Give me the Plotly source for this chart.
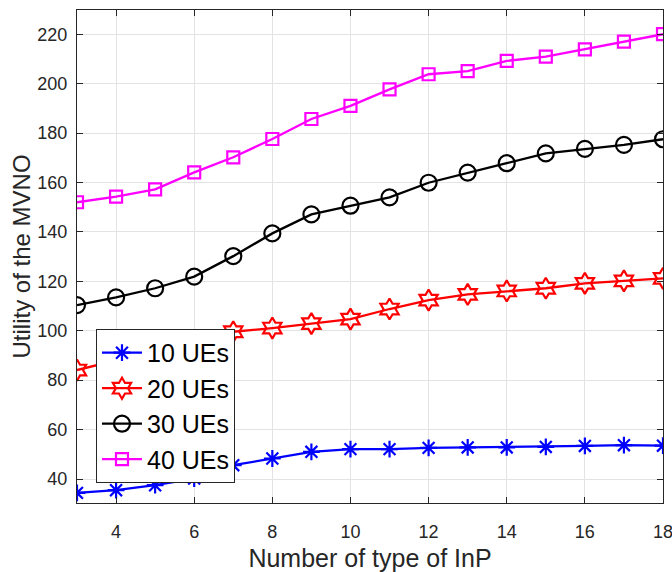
import plotly.graph_objects as go

x_vals = list(range(3, 19))
ues10 = [34.4, 35.5, 37.5, 40.2, 45.6, 48.3, 51.0, 52.1, 52.1, 52.6, 52.8, 52.8, 53.0, 53.4, 53.7, 53.5]
ues20 = [84.1, 88.0, 92.0, 96.0, 99.6, 101.1, 102.9, 104.7, 108.8, 112.4, 114.7, 116.1, 117.2, 119.2, 120.2, 121.2]
ues30 = [110.4, 113.5, 117.2, 121.9, 130.2, 139.4, 147.1, 150.6, 154.0, 159.9, 164.0, 167.8, 171.8, 173.6, 175.2, 177.5]
ues40 = [152.0, 154.3, 157.2, 164.1, 170.2, 177.6, 185.7, 191.0, 197.7, 203.8, 205.1, 209.2, 210.9, 213.9, 217.0, 220.0]
names = ["10 UEs", "20 UEs", "30 UEs", "40 UEs"]
x_ticks = [4, 6, 8, 10, 12, 14, 16, 18]
y_ticks = [40, 60, 80, 100, 120, 140, 160, 180, 200, 220]

styles = [
    ("#0000FF", "asterisk-open", 14),
    ("#FF0000", "hexagram-open", 16),
    ("#000000", "circle-open", 16),
    ("#FF00FF", "square-open", 12),
]

fig = go.Figure()
for name, ys, (col, sym, sz) in zip(names, [ues10, ues20, ues30, ues40], styles):
    fig.add_trace(go.Scatter(
        x=x_vals, y=ys, name=name, mode="lines+markers",
        line=dict(color=col, width=2.3),
        marker=dict(symbol=sym, size=sz, color=col, line=dict(color=col, width=2.2)),
    ))

axis_common = dict(
    showline=True, linecolor="#262626", linewidth=1, mirror="ticks",
    ticks="inside", ticklen=6, tickcolor="#262626",
    showgrid=True, gridcolor="#E3E3E3", gridwidth=1, zeroline=False,
    automargin=False, ticklabeloverflow="allow",
    tickfont=dict(family="Liberation Sans, Arial", size=18, color="#262626"),
)

fig.update_layout(
    width=672, height=572,
    margin=dict(l=77, r=9, t=10, b=69),
    paper_bgcolor="white", plot_bgcolor="white",
    font=dict(family="Liberation Sans, Arial", color="#262626"),
    xaxis=dict(range=[3, 18], tickvals=x_ticks, ticklabelstandoff=12,
               title=dict(text="Number of type of InP", font=dict(size=25, color="#262626"), standoff=8),
               **axis_common),
    yaxis=dict(range=[30.3, 229.8], tickvals=y_ticks, ticklabelstandoff=5,
               **axis_common),
    legend=dict(x=0.0324, y=0.353, xanchor="left", yanchor="top",
                bgcolor="white", bordercolor="#262626", borderwidth=1,
                font=dict(size=25, color="#000000"), itemwidth=40,
                tracegroupgap=0),
    showlegend=True,
)

fig.add_annotation(
    text="Utility of the MVNO", textangle=-90,
    xref="paper", yref="paper", x=-0.0939, y=0.5,
    xanchor="center", yanchor="middle", showarrow=False,
    font=dict(family="Liberation Sans, Arial", size=24, color="#262626"),
)

fig.write_html("out.html", config={"displayModeBar": False},
               post_script="document.body.style.margin='0';document.body.style.overflow='hidden';")
